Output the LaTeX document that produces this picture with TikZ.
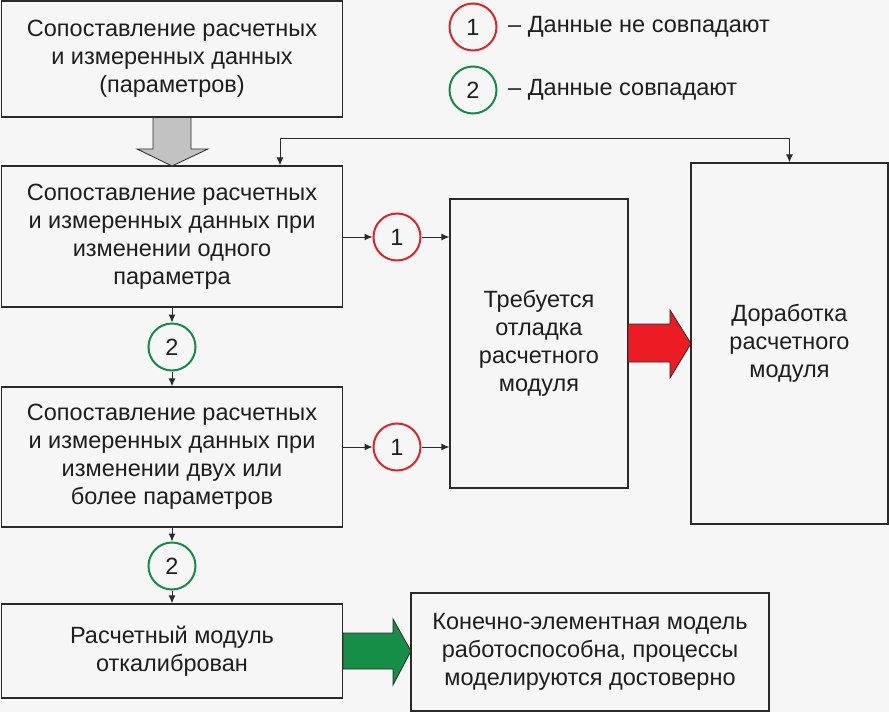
\documentclass[tikz,border=0pt]{standalone}
\usepackage{fontspec}
\setmainfont{Liberation Sans}
\usetikzlibrary{arrows.meta}
\definecolor{bg}{HTML}{F6F6F6}
\definecolor{linec}{HTML}{2A2A2A}
\definecolor{txt}{HTML}{1E1E1E}
\definecolor{cred}{HTML}{D8262B}
\definecolor{cgreen}{HTML}{17894A}
\definecolor{ared}{HTML}{EC1C24}
\definecolor{agreen}{HTML}{168E48}
\definecolor{agray}{HTML}{C2C2C2}
\newcommand\myfs{\fontsize{23.5}{28}\selectfont}
\begin{document}
\begin{tikzpicture}[x=1pt,y=-1pt,
  box/.style={draw=linec, line width=1.3pt, fill=bg, inner sep=0pt, align=center, font=\myfs, text=txt},
  numc/.style={circle, minimum size=47pt, inner sep=0pt, line width=2pt, fill=bg, font=\myfs, text=txt},
  redc/.style={numc, draw=cred},
  greenc/.style={numc, draw=cgreen},
  conn/.style={draw=linec, line width=1pt, -{Latex[length=8pt,width=7pt]}},
  blockarrow/.style={draw=linec, line width=0.8pt, line join=miter},
  legtext/.style={anchor=west, inner sep=0pt, font=\myfs, text=txt}
]
\fill[bg] (0,0) rectangle (889,712);
\useasboundingbox (0,0) rectangle (889,712);

% boxes
\node[box, minimum width=341pt, minimum height=116pt] (b1) at (172,59)
  {Сопоставление расчетных\\и измеренных данных\\(параметров)};
\node[box, minimum width=341pt, minimum height=141pt] (b2) at (172,236.5)
  {Сопоставление расчетных\\и измеренных данных при\\изменении одного\\параметра};
\node[box, minimum width=341pt, minimum height=140pt] (b3) at (172,457)
  {Сопоставление расчетных\\и измеренных данных при\\изменении двух или\\более параметров};
\node[box, minimum width=341pt, minimum height=94pt] (b4) at (172,651)
  {Расчетный модуль\\откалиброван};
\node[box, minimum width=358pt, minimum height=118pt] (b5) at (590,652)
  {Конечно-элементная модель\\работоспособна, процессы\\моделируются достоверно};
\node[box, minimum width=178pt, minimum height=289pt] (bm) at (539,343.5)
  {Требуется\\отладка\\расчетного\\модуля};
\node[box, minimum width=197pt, minimum height=361pt] (br) at (789.5,343.5)
  {Доработка\\расчетного\\модуля};

% circles
\node[redc] (c1a) at (397,237) {1};
\node[redc] (c1b) at (397,447) {1};
\node[greenc] (c2a) at (172,347) {2};
\node[greenc] (c2b) at (172,566) {2};

% legend
\node[redc] (l1) at (473,27) {1};
\node[greenc] (l2) at (473,90) {2};
\node[legtext] (t1) at (508,27) {– Данные не совпадают};
\node[legtext] (t2) at (508,90) {– Данные совпадают};

% connectors
\draw[conn] (b2.east |- c1a) -- (c1a);
\draw[conn] (c1a) -- (bm.west |- c1a);
\draw[conn] (b3.east |- c1b) -- (c1b);
\draw[conn] (c1b) -- (bm.west |- c1b);
\draw[conn] (b2) -- (c2a);
\draw[conn] (c2a) -- (b3);
\draw[conn] (b3) -- (c2b);
\draw[conn] (c2b) -- (b4);
\coordinate (fbl) at (280,138);
\coordinate (fbr) at (789.5,138);
\draw[conn, {Latex[length=8pt,width=7pt]}-{Latex[length=8pt,width=7pt]}] (b2.north -| fbl) -- (fbl) -- (fbr) -- (br.north);

% block arrows
\draw[blockarrow, fill=agray] (153,117.5) -- (191,117.5) -- (191,149) -- (208,149) -- (172,166) -- (137,149) -- (153,149) -- cycle;
\draw[blockarrow, fill=ared] (628,324) -- (670,324) -- (670,310) -- (691,343.5) -- (670,378) -- (670,362) -- (628,362) -- cycle;
\draw[blockarrow, fill=agreen] (343,633) -- (393,633) -- (393,619) -- (411,651) -- (393,685) -- (393,669) -- (343,669) -- cycle;
\end{tikzpicture}
\end{document}
